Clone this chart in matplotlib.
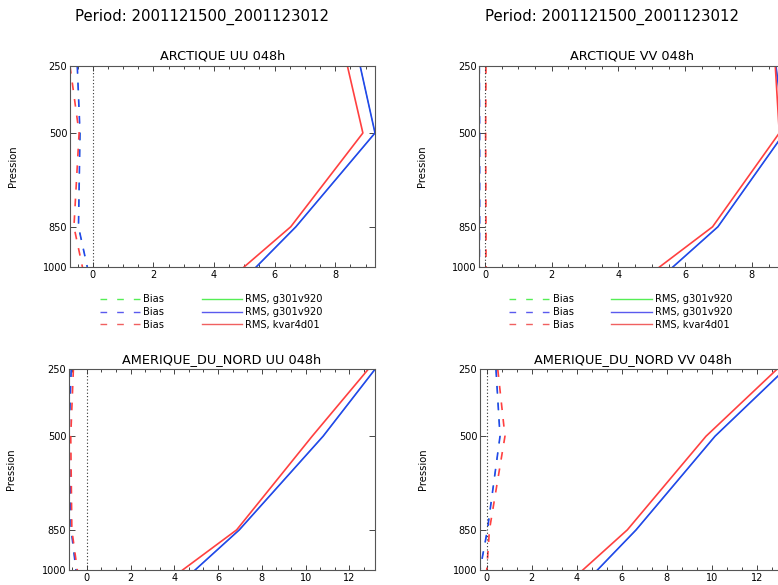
import matplotlib
matplotlib.use("Agg")
import matplotlib.pyplot as plt
from matplotlib.ticker import MultipleLocator, FixedLocator
from matplotlib.lines import Line2D

plt.rcParams['font.family'] = ['DejaVu Sans']

levels = [250, 500, 850, 1000]
level_ticks = [250, 500, 850, 1000]
period = "Period: 2001121500_2001123012"
exp_ref = "g301v920"
exp_new = "kvar4d01"

titles = ["ARCTIQUE UU 048h", "ARCTIQUE VV 048h",
          "AMERIQUE_DU_NORD UU 048h", "AMERIQUE_DU_NORD VV 048h"]

# ARCTIQUE UU
arc_uu_bias_ref = [-0.51, -0.42, -0.47, -0.18]
arc_uu_bias_new = [-0.75, -0.45, -0.62, -0.34]
arc_uu_rms_ref = [8.82, 9.31, 6.70, 5.39]
arc_uu_rms_new = [8.40, 8.91, 6.53, 4.99]
# ARCTIQUE VV
arc_vv_bias_ref = [-0.17, -0.16, -0.16, -0.17]
arc_vv_bias_new = [0.03, 0.02, 0.03, 0.03]
arc_vv_rms_ref = [8.72, 8.97, 6.98, 5.63]
arc_vv_rms_new = [8.70, 8.82, 6.82, 5.23]
# AMERIQUE_DU_NORD UU
amn_uu_bias_ref = [-0.71, -0.81, -0.71, -0.49]
amn_uu_bias_new = [-0.61, -0.73, -0.68, -0.43]
amn_uu_rms_ref = [13.17, 10.80, 6.97, 4.95]
amn_uu_rms_new = [12.86, 10.30, 6.85, 4.38]
# AMERIQUE_DU_NORD VV
amn_vv_bias_ref = [0.41, 0.59, 0.03, -0.30]
amn_vv_bias_new = [0.49, 0.81, 0.12, 0.00]
amn_vv_rms_ref = [13.26, 10.15, 6.64, 4.92]
amn_vv_rms_new = [12.90, 9.75, 6.25, 4.27]

panels = [
    (arc_uu_bias_ref, arc_uu_bias_new, arc_uu_rms_ref, arc_uu_rms_new),
    (arc_vv_bias_ref, arc_vv_bias_new, arc_vv_rms_ref, arc_vv_rms_new),
    (amn_uu_bias_ref, amn_uu_bias_new, amn_uu_rms_ref, amn_uu_rms_new),
    (amn_vv_bias_ref, amn_vv_bias_new, amn_vv_rms_ref, amn_vv_rms_new),
]

GREEN = '#33dd33'
BLUE = '#2246ee'
RED = '#ff4040'
LW = 1.2
LW_G = 0.6
DASH = (0, (4.6, 5.4))
DASH_G = (0, (4.6 * LW / LW_G, 5.4 * LW / LW_G))

W, H = 778, 585
fig = plt.figure(figsize=(W / 100, H / 100), dpi=100)

boxes = [
    (70, 66, 305, 201),
    (479.3, 66, 305, 201),
    (69, 369.3, 306, 200.7),
    (480, 369.3, 305, 200.7),
]
minor_steps = [0.5, 0.5, 2 / 3, 2 / 3]

for i, ((x0, y0, w, h), data) in enumerate(zip(boxes, panels)):
    ax = fig.add_axes([x0 / W, 1 - (y0 + h) / H, w / W, h / H])
    b_ref, b_new, r_ref, r_new = data
    ax.plot(b_ref, levels, color=GREEN, lw=LW_G, ls=DASH_G)
    ax.plot(b_ref, levels, color=BLUE, lw=LW, ls=DASH)
    ax.plot(b_new, levels, color=RED, lw=LW, ls=DASH)
    ax.plot(r_ref, levels, color=GREEN, lw=LW_G)
    ax.plot(r_ref, levels, color=BLUE, lw=LW)
    ax.plot(r_new, levels, color=RED, lw=LW)
    ax.axvline(0, color='#333333', ls=(0, (1, 2)), lw=0.8)
    allv = list(b_ref) + list(b_new) + list(r_ref) + list(r_new)
    ax.set_xlim(min(allv), max(allv))
    ax.set_ylim(1000, 250)
    ax.yaxis.set_major_locator(FixedLocator(level_ticks))
    ax.xaxis.set_major_locator(MultipleLocator(2))
    ax.xaxis.set_minor_locator(MultipleLocator(minor_steps[i]))
    ax.tick_params(axis='both', which='both', direction='in', top=True,
                   right=True, labelsize=7, pad=2, color='#444444')
    ax.tick_params(axis='x', which='major', length=3.5, width=0.7)
    ax.tick_params(axis='x', which='minor', length=2.0, width=0.7)
    ax.tick_params(axis='y', which='major', length=4.5, width=0.7)
    ax.tick_params(axis='y', which='minor', length=0)
    for s in ax.spines.values():
        s.set_color('#555555')
        s.set_linewidth(0.8)
    ax.set_title(titles[i], fontsize=9.3, pad=4.6)
    ax.set_ylabel("Pression", fontsize=7.2)
    ax.yaxis.set_label_coords(-0.172, 0.5)

    if i < 2:
        handles = [
            Line2D([], [], color='#55ee55', lw=1.0, ls=(0, (4.8, 7.2))),
            Line2D([], [], color='#5a5aee', lw=1.0, ls=(0, (4.8, 7.2))),
            Line2D([], [], color='#f06060', lw=1.0, ls=(0, (4.8, 7.2))),
            Line2D([], [], color='#55ee55', lw=1.0),
            Line2D([], [], color='#5a5aee', lw=1.0),
            Line2D([], [], color='#f06060', lw=1.0),
        ]
        labels = ["Bias", "Bias", "Bias",
                  "RMS, " + exp_ref, "RMS, " + exp_ref, "RMS, " + exp_new]
        lx = (x0 + 30) / W
        fig.legend(handles, labels, loc='upper left',
                   bbox_to_anchor=(lx, 1 - 294.5 / H), ncol=2,
                   frameon=False, fontsize=7.1, handlelength=4.1,
                   handletextpad=0.3, columnspacing=3.8, labelspacing=0.26,
                   borderpad=0, borderaxespad=0)

fig.text(202 / W, 1 - 20.7 / H, period, fontsize=10.7, ha='center', va='baseline')
fig.text(612 / W, 1 - 20.7 / H, period, fontsize=10.7, ha='center', va='baseline')

fig.savefig("out.png", dpi=100)
